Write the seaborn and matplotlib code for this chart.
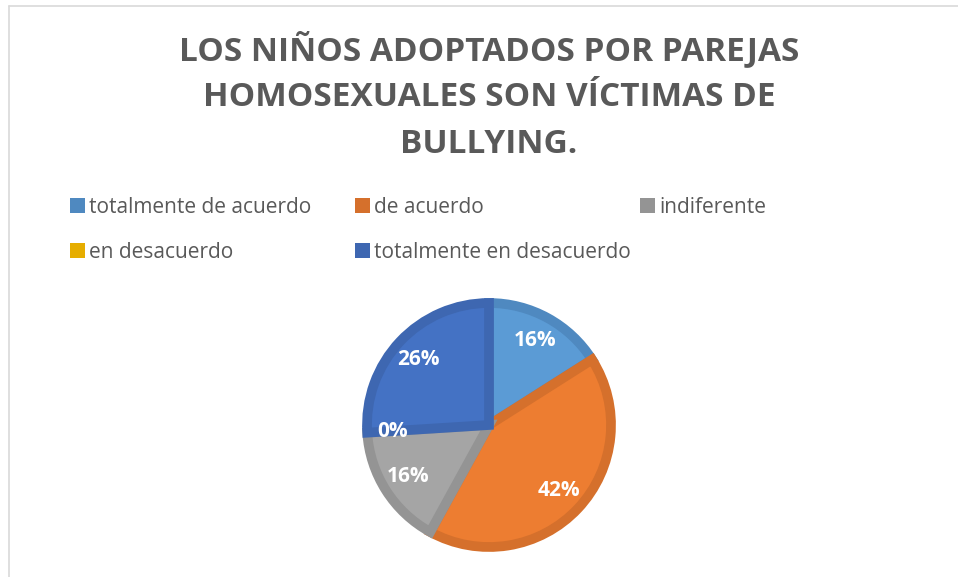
import matplotlib
matplotlib.use("Agg")
import matplotlib.pyplot as plt
from matplotlib.patches import Rectangle
from matplotlib.lines import Line2D
import seaborn as sns

# datos
categorias = ["totalmente de acuerdo", "de acuerdo", "indiferente",
              "en desacuerdo", "totalmente en desacuerdo"]
porcentajes = [16, 42, 16, 0, 26]
titulo = "LOS NIÑOS ADOPTADOS POR PAREJAS\nHOMOSEXUALES SON VÍCTIMAS DE\nBULLYING."

colores = ["#5B9BD5", "#ED7D31", "#A5A5A5", "#FFC000", "#4472C4"]
bordes = ["#4F89C0", "#D5702C", "#949494", "#E6AD00", "#3E67B1"]

sns.set_theme(style="white")
plt.rcParams["font.family"] = ["Open Sans", "DejaVu Sans"]

W, H = 958, 577
fig = plt.figure(figsize=(W / 100, H / 100), dpi=100)
fig.patch.set_facecolor("white")

# marco del grafico (gris claro, arriba e izquierda)
fig.add_artist(Line2D([8.5 / W, 8.5 / W], [0, 1 - 5.5 / H], color="#D9D9D9", lw=1.2))
fig.add_artist(Line2D([8.5 / W, 1], [1 - 5.5 / H, 1 - 5.5 / H], color="#D9D9D9", lw=1.2))

# titulo
fig.text(489 / W, 1 - 96 / H, titulo, ha="center", va="center",
         fontsize=24, fontweight="bold", color="#595959", linespacing=1.53)

# leyenda en filas de 3 columnas, como Excel
col_x = [70, 355, 640]
fila_y = [205, 250]
for i, (cat, bc) in enumerate(zip(categorias, bordes)):
    cx = col_x[i % 3]
    cy = fila_y[i // 3]
    fig.add_artist(Rectangle((cx / W, 1 - (cy + 7.5) / H), 14.5 / W, 15 / H,
                             transform=fig.transFigure, facecolor=bc, edgecolor="none"))
    fig.text((cx + 19) / W, 1 - cy / H, cat, ha="left", va="center_baseline",
             fontsize=15, color="#595959")

# pastel
r_px = 122
cx_px, cy_px = 489, 425
lado = 2.2 * r_px
ax = fig.add_axes([(cx_px - lado / 2) / W, 1 - (cy_px + lado / 2) / H, lado / W, lado / H])
wedges, textos, autotextos = ax.pie(
    porcentajes, colors=colores, startangle=90, counterclock=False,
    autopct="%1.0f%%", pctdistance=0.79,
    wedgeprops=dict(linewidth=7, joinstyle="miter"),
    textprops=dict(color="white", fontsize=15, fontweight="bold"))
for w, bc, v in zip(wedges, bordes, porcentajes):
    w.set_edgecolor(bc if v > 0 else "none")
    w.set_clip_on(False)
ax.set_xlim(-1.1, 1.1)
ax.set_ylim(-1.1, 1.1)
ax.set_aspect("equal")
ax.axis("off")

fig.savefig("out.png", dpi=100, facecolor="white")
